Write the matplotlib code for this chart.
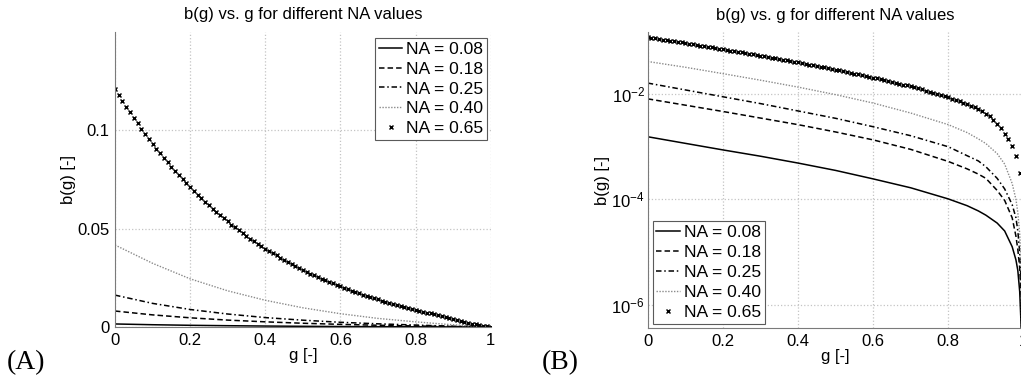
import numpy as np
import matplotlib
matplotlib.use("Agg")
import matplotlib.pyplot as plt
from matplotlib.ticker import NullLocator

plt.rcParams['font.family'] = ['Liberation Sans', 'DejaVu Sans']
plt.rcParams['mathtext.fontset'] = 'custom'
plt.rcParams['mathtext.rm'] = 'Liberation Sans'

# g grid used for the line series
g = [0.0, 0.1, 0.2, 0.3, 0.4, 0.5, 0.6, 0.7, 0.8, 0.85, 0.88, 0.9, 0.93,
     0.95, 0.97, 0.98, 0.985, 0.99, 0.995, 1.0]

b_008 = [1.549e-3, 1.161e-3, 8.71e-4, 6.61e-4, 4.90e-4, 3.55e-4, 2.45e-4, 1.66e-4,
         1.02e-4, 7.59e-5, 6.03e-5, 5.01e-5, 3.55e-5, 2.51e-5, 1.26e-5, 7.08e-6,
         4.47e-6, 1.78e-6, 2.51e-7, 0.0]
b_018 = [8.13e-3, 6.17e-3, 4.68e-3, 3.51e-3, 2.63e-3, 1.91e-3, 1.35e-3, 8.91e-4,
         5.25e-4, 3.80e-4, 3.02e-4, 2.51e-4, 1.48e-4, 9.55e-5, 4.47e-5, 2.00e-5,
         1.12e-5, 5.01e-6, 1.0e-6, 0.0]
b_025 = [1.622e-2, 1.202e-2, 8.91e-3, 6.61e-3, 4.79e-3, 3.47e-3, 2.40e-3, 1.62e-3,
         1.0e-3, 6.76e-4, 5.37e-4, 4.17e-4, 2.51e-4, 1.58e-4, 7.94e-5, 4.47e-5,
         2.51e-5, 1.0e-5, 1.58e-6, 0.0]
b_040 = [4.17e-2, 3.24e-2, 2.45e-2, 1.84e-2, 1.36e-2, 9.77e-3, 6.76e-3, 4.37e-3,
         2.63e-3, 1.86e-3, 1.41e-3, 1.15e-3, 7.41e-4, 4.68e-4, 2.00e-4, 1.0e-4,
         5.62e-5, 2.24e-5, 3.98e-6, 0.0]

# NA = 0.65 is drawn with markers every 0.01 in g
g_fine = [i / 100 for i in range(101)]
b_065 = [0.1210, 0.1179, 0.1149, 0.1120, 0.1091, 0.1063, 0.1035, 0.1008, 0.0982, 0.0957,
         0.0931, 0.0907, 0.0883, 0.0860, 0.0837, 0.0815, 0.0793, 0.0772, 0.0751, 0.0731,
         0.0711, 0.0692, 0.0673, 0.0654, 0.0636, 0.0619, 0.0601, 0.0585, 0.0568, 0.0552,
         0.0537, 0.0521, 0.0506, 0.0492, 0.0478, 0.0464, 0.0450, 0.0437, 0.0424, 0.0411,
         0.0399, 0.0387, 0.0375, 0.0364, 0.0353, 0.0342, 0.0331, 0.0321, 0.0311, 0.0301,
         0.0291, 0.0282, 0.0272, 0.0263, 0.0255, 0.0246, 0.0238, 0.0230, 0.0222, 0.0214,
         0.0206, 0.0199, 0.0192, 0.0184, 0.0178, 0.0171, 0.0164, 0.0158, 0.0152, 0.0146,
         0.0140, 0.0134, 0.0128, 0.0123, 0.0117, 0.0112, 0.0107, 0.0102, 0.00966, 0.00917,
         0.00870, 0.00823, 0.00778, 0.00733, 0.00689, 0.00646, 0.00604, 0.00563, 0.00519, 0.00473,
         0.00427, 0.00376, 0.00324, 0.00275, 0.00224, 0.00178, 0.00138, 0.00102, 0.000676, 0.000324,
         0.0]

labels = ["NA = 0.08", "NA = 0.18", "NA = 0.25", "NA = 0.40", "NA = 0.65"]
xticks = [0, 0.2, 0.4, 0.6, 0.8, 1]

FS = 12
LFS = 12.6
grid_col = '#c4c4c4'
axis_col = '#7a7a7a'


def draw(ax):
    ax.plot(g, b_008, color='k', lw=1.1, ls='-', label=labels[0])
    ax.plot(g, b_018, color='k', lw=1.1, dashes=(3.6, 2.0), label=labels[1])
    ax.plot(g, b_025, color='k', lw=1.1, dashes=(3.6, 1.8, 1.0, 1.8), label=labels[2])
    ax.plot(g, b_040, color='#8a8a8a', lw=1.0, dashes=(1.0, 1.1), label=labels[3])
    ax.plot(g_fine, b_065, color='k', ls='none', marker='x', ms=3.4, mew=1.05, label=labels[4])
    ax.set_xlim(0, 1)
    ax.set_xticks(xticks)
    ax.set_xticklabels(["0", "0.2", "0.4", "0.6", "0.8", "1"])
    ax.grid(True, color=grid_col, ls=':', lw=0.9)
    for s in ['top', 'right']:
        ax.spines[s].set_visible(False)
    for s in ['left', 'bottom']:
        ax.spines[s].set_color(axis_col)
        ax.spines[s].set_linewidth(0.8)
    ax.tick_params(direction='in', length=0, labelsize=FS, colors='k', pad=4)
    ax.set_title("b(g) vs. g for different NA values", fontsize=FS, pad=9)
    ax.set_xlabel("g [-]", fontsize=FS, labelpad=0)
    ax.set_ylabel("b(g) [-]", fontsize=FS, labelpad=1)


def style_legend(leg):
    leg.get_frame().set_linewidth(0.8)


fig = plt.figure(figsize=(10.21, 3.76), dpi=100)

ax1 = fig.add_axes([0.1126, 0.1303, 0.368, 0.7846])
draw(ax1)
ax1.set_ylim(0, 0.15)
ax1.set_yticks([0, 0.05, 0.1])
ax1.set_yticklabels(["0", "0.05", "0.1"])
leg1 = ax1.legend(loc='upper right', bbox_to_anchor=(0.99, 0.98), fontsize=LFS,
                  frameon=True, fancybox=False, framealpha=1, edgecolor='#5a5a5a',
                  handlelength=1.35, handletextpad=0.2, labelspacing=0.26,
                  borderpad=0.22, borderaxespad=0)
style_legend(leg1)

ax2 = fig.add_axes([0.6344, 0.1277, 0.368, 0.787])
draw(ax2)
ax2.set_yscale('log')
ax2.set_ylim(3.6e-7, 0.151)
ax2.set_yticks([1e-6, 1e-4, 1e-2])
ax2.yaxis.set_minor_locator(NullLocator())
ax2.tick_params(axis='y', pad=2)
leg2 = ax2.legend(loc='lower left', bbox_to_anchor=(0.013, 0.015), fontsize=LFS,
                  frameon=True, fancybox=False, framealpha=1, edgecolor='#5a5a5a',
                  handlelength=1.35, handletextpad=0.2, labelspacing=0.26,
                  borderpad=0.22, borderaxespad=0)
style_legend(leg2)

fig.text(0.007, 0.017, "(A)", fontsize=20, family='Liberation Serif')
fig.text(0.531, 0.017, "(B)", fontsize=20, family='Liberation Serif')

fig.savefig("out.png", dpi=100)
